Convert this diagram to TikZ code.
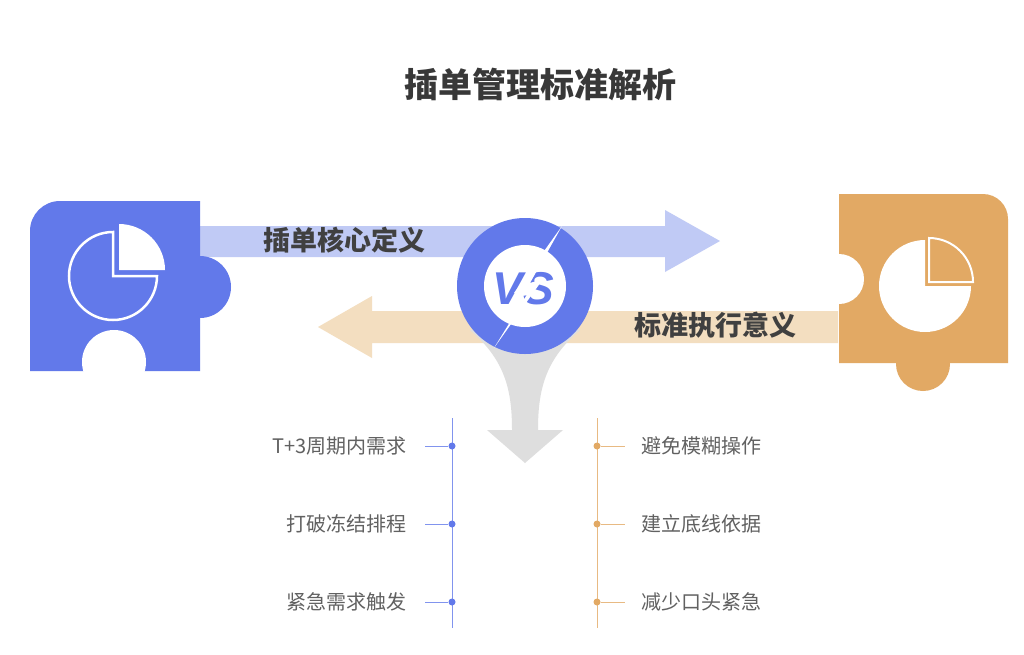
\documentclass[tikz,border=0pt]{standalone}
\usepackage{fontspec}
\setmainfont{Liberation Sans}
\newfontfamily\cjk{Noto Sans CJK SC}
\begin{document}
\begin{tikzpicture}[x=1pt,y=-1pt,
  title/.style={font=\cjk\bfseries\fontsize{34}{36}\selectfont,text=black!78},
  lab/.style={font=\cjk\bfseries\fontsize{27}{30}\selectfont,text=black!75},
  item/.style={font=\cjk\fontsize{20}{22}\selectfont,text=black!62},
  dot/.style={circle,inner sep=0pt,minimum size=7pt}]
\definecolor{bl}{HTML}{6279EA}\definecolor{lbl}{HTML}{C0CAF5}
\definecolor{or}{HTML}{E2A964}\definecolor{lor}{HTML}{F3DEC0}
\useasboundingbox (0,0) rectangle (1024,654);
\fill[white] (0,0) rectangle (1024,654);
\node[title] (t) at (540,84) {插单管理标准解析};
% arrows
\fill[lbl] (200,226) -- (665,226) -- (665,210) -- (720,241) -- (665,272) -- (665,257) -- (200,257) -- cycle;
\fill[lor] (838,311) -- (372,311) -- (372,296) -- (318,327) -- (372,358) -- (372,343) -- (838,343) -- cycle;
% gray funnel
\fill[black!13] (470,330) .. controls (505,360) and (512,390) .. (512,430) -- (487,430) -- (525,463) -- (563,430) -- (538,430) .. controls (538,390) and (545,360) .. (580,330) -- cycle;
% left puzzle
\fill[bl] (30,371) -- (30,231) arc[start angle=180,end angle=270,radius=30] -- (200,201) -- (200,371) -- cycle;
\fill[bl] (200,287) circle (31);
\fill[white] (114,362) circle (32);
\begin{scope}[shift={(113,276)},yscale=-1]
\draw[white,line width=2.5pt] (0,0) -- (0,44) arc[start angle=90,end angle=360,radius=44] -- cycle;
\fill[white] (6,6) -- (6,52) arc[start angle=90,end angle=0,radius=46] -- cycle;
\end{scope}
% right puzzle
\fill[or] (839,194) -- (983,194) arc[start angle=270,end angle=360,radius=25] -- (1008,363) -- (839,363) -- cycle;
\fill[or] (923,364) circle (27);
\fill[white] (839,279) circle (25);
\begin{scope}[shift={(925,286)},yscale=-1]
\fill[white] (0,0) -- (0,46) arc[start angle=90,end angle=360,radius=46] -- cycle;
\draw[white,line width=2pt] (4,4) -- (4,48) arc[start angle=90,end angle=0,radius=44] -- cycle;
\end{scope}
% VS
\node[circle,fill=bl,minimum size=136pt,inner sep=0pt] (vs) at (525,286) {};
\fill[white] (525,286) circle (41);
\node[font=\bfseries\itshape\fontsize{46}{46}\selectfont,text=bl] at (523,289) {VS};
\fill[white] (562,226) -- (514,293) -- (531,288) -- (494,348) -- (543,279) -- (530,283) -- cycle;
\node[lab,anchor=west] (l1) at (260,240) {插单核心定义};
\node[lab,anchor=east] (l2) at (800,325) {标准执行意义};
% left list
\draw[bl!80,line width=1pt] (452,418) -- (452,628);
\foreach \y/\t [count=\i] in {446/T+3周期内需求,524/打破冻结排程,602/紧急需求触发}{
  \node[dot,fill=bl] (bd\i) at (452,\y) {};
  \coordinate (bt\i) at (425,\y);
  \draw[bl!80,line width=1pt] (bt\i) -- (bd\i);
  \node[item,anchor=east] (bi\i) at (410,\y) {\t};
}
\draw[or!80,line width=1pt] (597,418) -- (597,628);
\foreach \y/\t [count=\i] in {446/避免模糊操作,524/建立底线依据,602/减少口头紧急}{
  \node[dot,fill=or] (od\i) at (597,\y) {};
  \coordinate (ot\i) at (625,\y);
  \draw[or!80,line width=1pt] (od\i) -- (ot\i);
  \node[item,anchor=west] (oi\i) at (638,\y) {\t};
}
\end{tikzpicture}
\end{document}
